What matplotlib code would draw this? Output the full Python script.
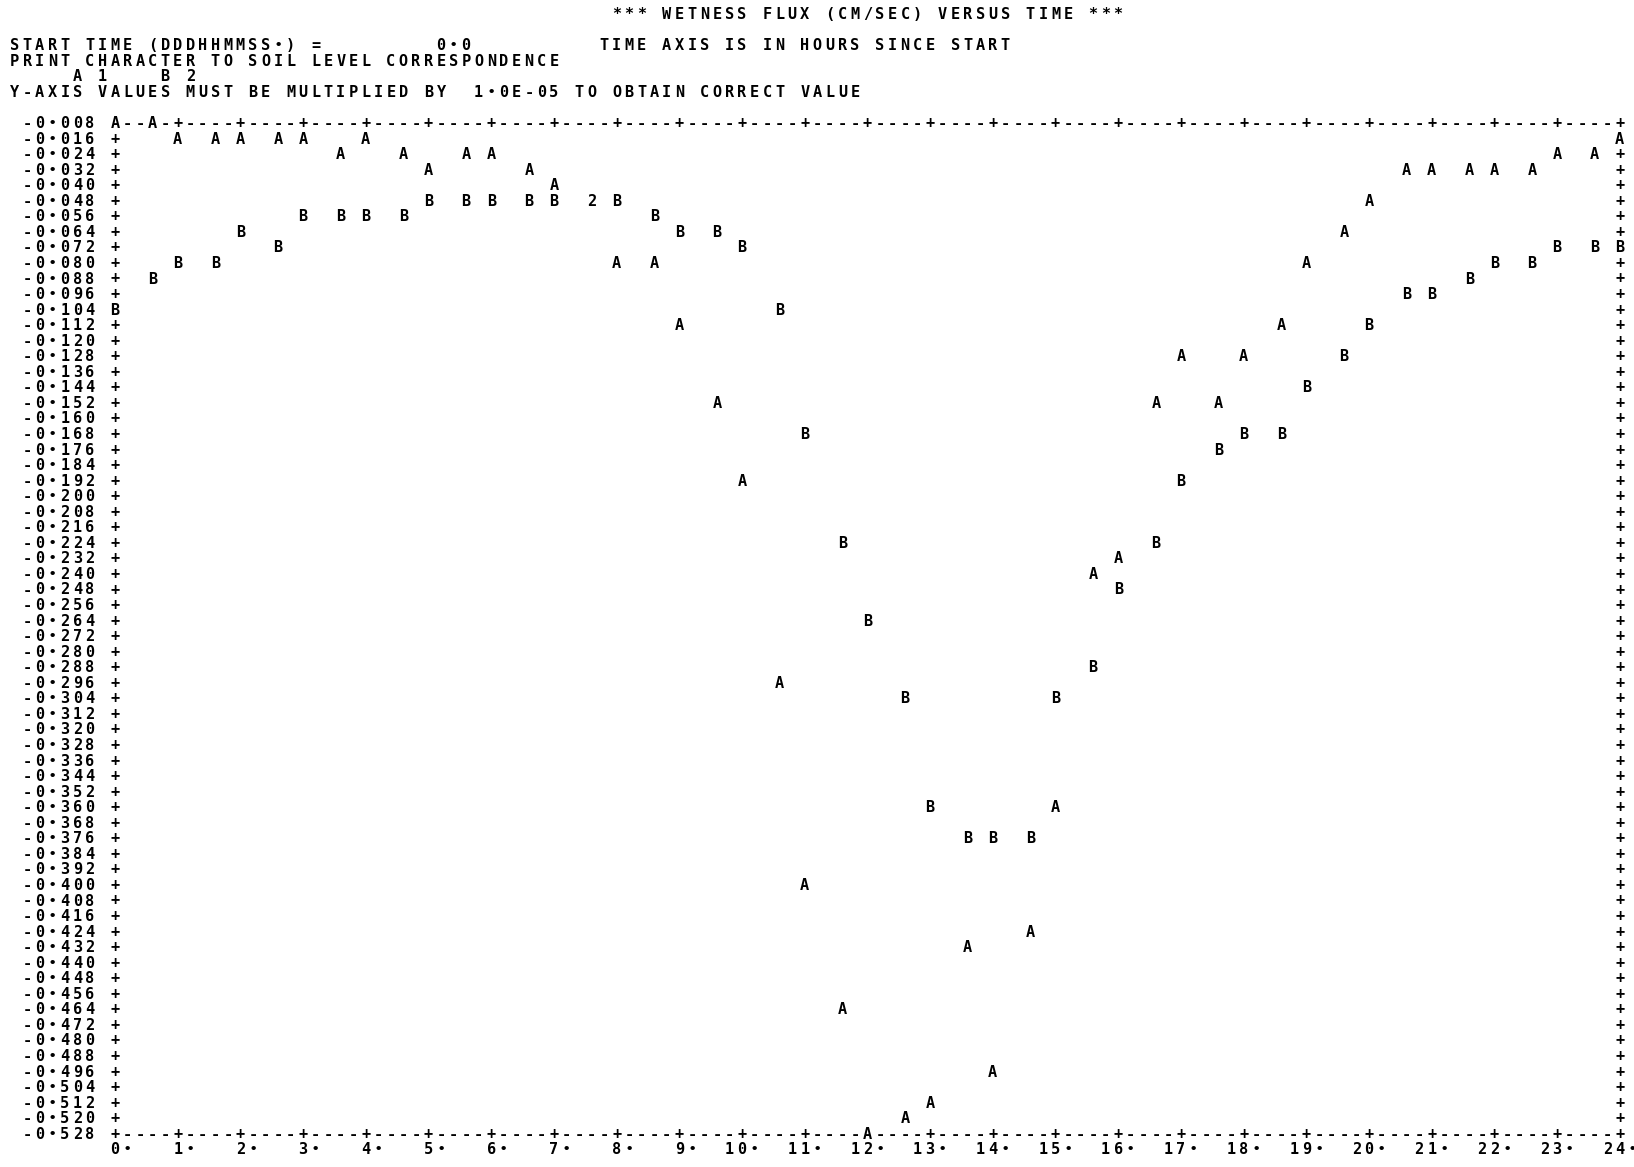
import numpy as np
import matplotlib.pyplot as plt

# line printer plot of wetness flux, two soil levels, one value every half hour
hours = [0.0, 0.5, 1.0, 1.5, 2.0, 2.5, 3.0, 3.5, 4.0, 4.5, 5.0, 5.5, 6.0, 6.5,
         7.0, 7.5, 8.0, 8.5, 9.0, 9.5, 10.0, 10.5, 11.0, 11.5, 12.0, 12.5,
         13.0, 13.5, 14.0, 14.5, 15.0, 15.5, 16.0, 16.5, 17.0, 17.5, 18.0,
         18.5, 19.0, 19.5, 20.0, 20.5, 21.0, 21.5, 22.0, 22.5, 23.0, 23.5, 24.0]

# soil level 1 (print char A)
level1 = [-0.008, -0.008, -0.016, -0.016, -0.016, -0.016, -0.016, -0.024,
          -0.016, -0.024, -0.032, -0.024, -0.024, -0.032, -0.040, -0.048,
          -0.080, -0.080, -0.112, -0.152, -0.192, -0.296, -0.400, -0.464,
          -0.528, -0.520, -0.512, -0.432, -0.496, -0.424, -0.360, -0.240,
          -0.232, -0.152, -0.128, -0.152, -0.128, -0.112, -0.080, -0.064,
          -0.048, -0.032, -0.032, -0.032, -0.032, -0.032, -0.024, -0.024,
          -0.016]

# soil level 2 (print char B)
level2 = [-0.104, -0.088, -0.080, -0.080, -0.064, -0.072, -0.056, -0.056,
          -0.056, -0.056, -0.048, -0.048, -0.048, -0.048, -0.048, -0.048,
          -0.048, -0.056, -0.064, -0.064, -0.072, -0.104, -0.168, -0.224,
          -0.264, -0.304, -0.360, -0.376, -0.376, -0.376, -0.304, -0.288,
          -0.248, -0.224, -0.192, -0.176, -0.168, -0.168, -0.144, -0.128,
          -0.112, -0.096, -0.096, -0.088, -0.080, -0.080, -0.072, -0.072,
          -0.072]

y_step = 0.008
y_rows = [-0.008 * (i + 1) for i in range(66)]   # -0.008 ... -0.528
x_ticks = list(range(0, 25))

title = "*** WETNESS FLUX (CM/SEC) VERSUS TIME ***"
header = [
    (2, 0, "START TIME (DDDHHMMSS.) =         0.0"),
    (2, 47, "TIME AXIS IS IN HOURS SINCE START"),
    (3, 0, "PRINT CHARACTER TO SOIL LEVEL CORRESPONDENCE"),
    (4, 5, "A 1    B 2"),
    (5, 0, "Y-AXIS VALUES MUST BE MULTIPLIED BY  1.0E-05 TO OBTAIN CORRECT VALUE"),
]

W, H = 1634, 1167
fig = plt.figure(figsize=(W / 100, H / 100), dpi=100)
fig.patch.set_facecolor("white")

# page grid (pixels): character columns and printed lines
col_w = 12.54
line_h = 15.55
x0_px, top_px = 115.0, 123.5          # plot origin (t=0, y=-0.008)
bot_px = top_px + 65 * line_h
ax = fig.add_axes([x0_px / W, 1 - bot_px / H, 24 * 5 * col_w / W, (bot_px - top_px) / H])
ax.set_xlim(0, 24)
ax.set_ylim(y_rows[-1], y_rows[0])
ax.axis("off")

C0 = 8    # page column of t=0
L0 = 7    # page line of the top row


def col_x(c):
    return (c - C0) / 5.0


def line_y(L):
    return -0.008 * (L - L0 + 1)


grid = {}


def put(L, c, s):
    for i, ch in enumerate(s):
        if ch != " ":
            grid[(L, c + i)] = ch


# header
put(0, 48, title)
for L, c, s in header:
    put(L, c, s)

# frame
ncol = 24 * 5
for r in (0, len(y_rows) - 1):
    for k in range(ncol + 1):
        put(L0 + r, C0 + k, "+" if k % 5 == 0 else "-")
for r in range(1, len(y_rows) - 1):
    put(L0 + r, C0, "+")
    put(L0 + r, C0 + ncol, "+")

# y labels
for r, v in enumerate(y_rows):
    put(L0 + r, 1, "%6.3f" % v)

# x labels (units digit under the tick)
for t in x_ticks:
    s = "%d." % t
    put(L0 + len(y_rows), C0 + t * 5 - (len(s) - 2), s)

# data points, overlapping points print the count
hits = {}
for ch, vals in (("A", level1), ("B", level2)):
    for t, v in zip(hours, vals):
        c = C0 + int(np.floor(t * 5 + 0.5))
        r = int(round(-v / y_step)) - 1
        hits.setdefault((L0 + r, c), []).append(ch)
for key, chs in hits.items():
    grid[key] = chs[0] if len(chs) == 1 else str(len(chs))

fam = ["DejaVu Sans Mono", "DejaVu Sans"]
for (L, c), ch in grid.items():
    size = 11
    if ch == ".":
        ch = "\u2022"
        size = 9
    ax.text(col_x(c), line_y(L), ch, ha="center", va="center", fontsize=size,
            fontweight="bold", family=fam, color="black", clip_on=False)

fig.savefig("out.png", dpi=100, facecolor="white")
